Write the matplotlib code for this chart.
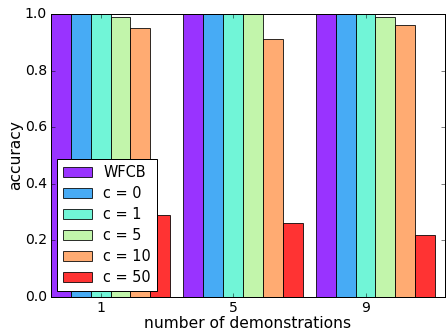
import numpy as np
import matplotlib
matplotlib.use('Agg')
import matplotlib.pyplot as plt

plt.style.use('classic')

groups = ['1', '5', '9']
labels = ['WFCB', 'c = 0', 'c = 1', 'c = 5', 'c = 10', 'c = 50']
acc = [
    [1.00, 1.00, 1.00],  # WFCB
    [1.00, 1.00, 1.00],  # c = 0
    [1.00, 1.00, 1.00],  # c = 1
    [0.99, 1.00, 0.99],  # c = 5
    [0.95, 0.91, 0.96],  # c = 10
    [0.29, 0.26, 0.22],  # c = 50
]

dpi = 72
fig = plt.figure(figsize=(446 / dpi, 332 / dpi), dpi=dpi)
ax = fig.add_axes([51 / 446, 35 / 332, 394 / 446, 283 / 332])

w = 0.15
x = np.arange(len(groups))
colors = plt.cm.rainbow(np.linspace(0, 1, len(labels)))
for i, lab in enumerate(labels):
    ax.bar(x + i * w, acc[i], w, color=colors[i], alpha=0.8,
           edgecolor='black', align='edge', label=lab)

ax.set_xticks(x + 2.5 * w)
ax.set_xticklabels(groups)
ax.set_xlim(0, 2.975)
ax.set_ylim(0, 1.0)
ax.tick_params(labelsize=14)
ax.set_xlabel('number of demonstrations', fontsize=15.5, labelpad=1)
ax.set_ylabel('accuracy', fontsize=15.5, labelpad=2)
ax.legend(loc='lower left', fontsize=14.5, borderaxespad=0.4,
          labelspacing=0.42)

plt.savefig('out.png', dpi=dpi)
